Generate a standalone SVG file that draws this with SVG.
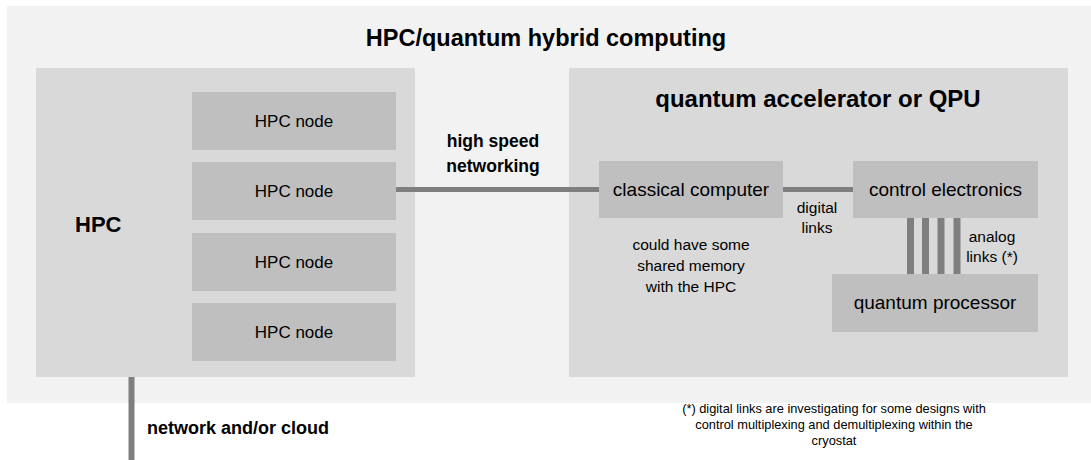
<svg xmlns="http://www.w3.org/2000/svg" width="1091" height="460" viewBox="0 0 1091 460">
<style>
  text { font-family: "Liberation Sans", Arial, sans-serif; fill: #000; }
  .b { font-weight: bold; }
  .panel { fill: #f2f2f2; }
  .box { fill: #d9d9d9; }
  .node { fill: #bfbfbf; }
  .conn { stroke: #7f7f7f; stroke-width: 5; fill: none; }
  .bar { stroke: #7f7f7f; stroke-width: 7; fill: none; }
  .t17 { font-size: 17px; }
  .t19 { font-size: 19px; }
  .t16 { font-size: 15.5px; }
  .fn { font-size: 12.8px; }
</style>
<rect class="panel" x="7" y="6" width="1084" height="397"/>
<text class="b" x="546" y="46" font-size="23.5" text-anchor="middle">HPC/quantum hybrid computing</text>

<g id="hpc">
  <rect class="box" x="36" y="68" width="379" height="309"/>
  <text class="b" x="75" y="232" font-size="22">HPC</text>
</g>
<g id="qpu">
  <rect class="box" x="569" y="68" width="499" height="309"/>
  <text class="b" x="818" y="107" font-size="24" text-anchor="middle">quantum accelerator or QPU</text>
</g>

<g id="connectors">
  <line class="conn" x1="396" y1="189.5" x2="599" y2="189.5"/>
  <line class="conn" x1="783" y1="189.5" x2="853" y2="189.5"/>
  <line class="bar" x1="910.5" y1="218" x2="910.5" y2="274"/>
  <line class="bar" x1="925.5" y1="218" x2="925.5" y2="274"/>
  <line class="bar" x1="941" y1="218" x2="941" y2="274"/>
  <line class="bar" x1="957" y1="218" x2="957" y2="274"/>
  <line x1="131.5" y1="377" x2="131.5" y2="460" stroke="#7f7f7f" stroke-width="6"/>
</g>

<g id="hpc-node-1">
  <rect class="node" x="192" y="92" width="204" height="58"/>
  <text class="t17" x="294" y="127" text-anchor="middle">HPC node</text>
</g>
<g id="hpc-node-2">
  <rect class="node" x="192" y="162" width="204" height="58"/>
  <text class="t17" x="294" y="197" text-anchor="middle">HPC node</text>
</g>
<g id="hpc-node-3">
  <rect class="node" x="192" y="233" width="204" height="58"/>
  <text class="t17" x="294" y="268" text-anchor="middle">HPC node</text>
</g>
<g id="hpc-node-4">
  <rect class="node" x="192" y="303" width="204" height="58"/>
  <text class="t17" x="294" y="338" text-anchor="middle">HPC node</text>
</g>

<g id="labels-network">
  <text class="b" x="493" y="147" font-size="17.5" text-anchor="middle">high speed</text>
  <text class="b" x="493" y="172" font-size="17.5" text-anchor="middle">networking</text>
  <text class="b" x="147" y="434" font-size="18">network and/or cloud</text>
</g>

<g id="classical-computer">
  <rect class="node" x="599" y="161" width="184" height="57"/>
  <text class="t19" x="691" y="196" text-anchor="middle">classical computer</text>
</g>
<g id="control-electronics">
  <rect class="node" x="853" y="161" width="185" height="57"/>
  <text class="t19" x="945.5" y="196" text-anchor="middle">control electronics</text>
</g>
<g id="quantum-processor">
  <rect class="node" x="832" y="274" width="206" height="58"/>
  <text class="t19" x="935" y="309" text-anchor="middle">quantum processor</text>
</g>

<g id="labels-qpu">
  <text class="t16" x="817" y="213" text-anchor="middle">digital</text>
  <text class="t16" x="817" y="233" text-anchor="middle">links</text>
  <text class="t16" x="992" y="242" text-anchor="middle">analog</text>
  <text class="t16" x="992" y="262" text-anchor="middle">links (*)</text>
  <text class="t16" x="691" y="250" text-anchor="middle">could have some</text>
  <text class="t16" x="691" y="271" text-anchor="middle">shared memory</text>
  <text class="t16" x="691" y="292" text-anchor="middle">with the HPC</text>
</g>

<g id="footnote">
  <text class="fn" x="834" y="413" text-anchor="middle">(*) digital links are investigating for some designs with</text>
  <text class="fn" x="834" y="429" text-anchor="middle">control multiplexing and demultiplexing within the</text>
  <text class="fn" x="834" y="445" text-anchor="middle">cryostat</text>
</g>
</svg>
